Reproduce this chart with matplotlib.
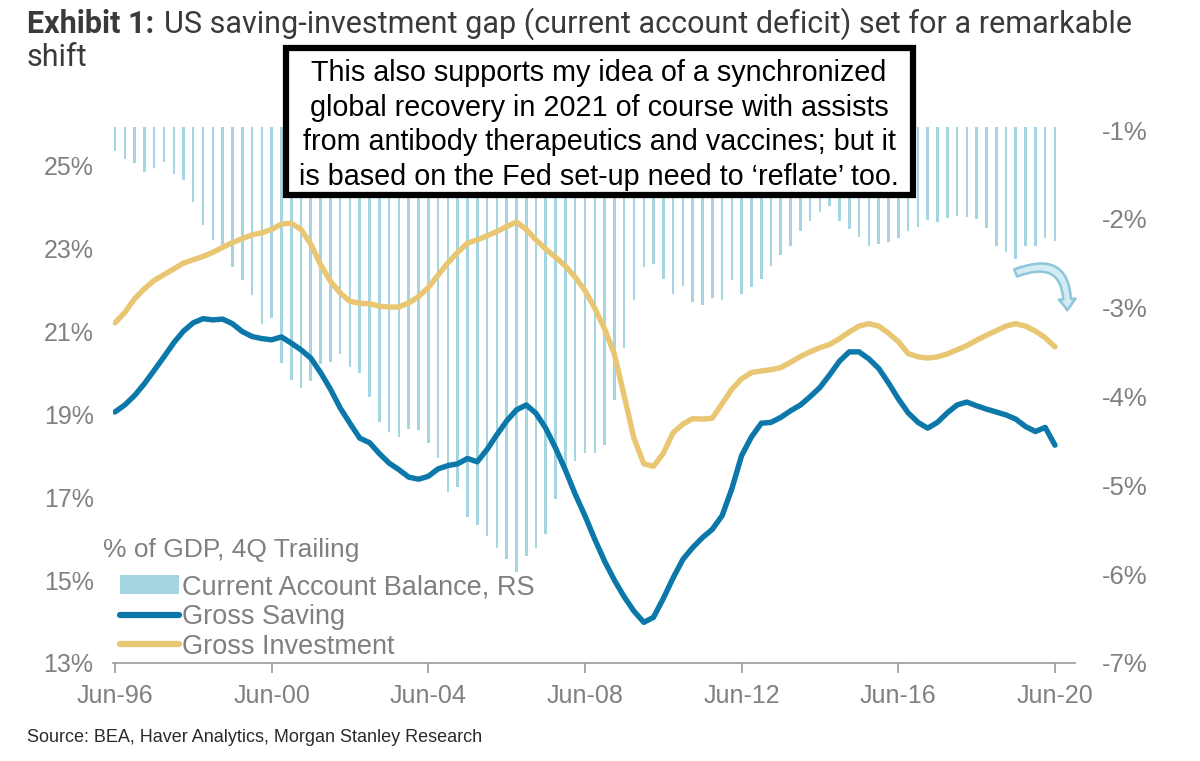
import matplotlib
matplotlib.use("Agg")
import matplotlib.pyplot as plt
import matplotlib.dates as mdates
from matplotlib.patches import Patch, Rectangle, FancyArrowPatch
from matplotlib.lines import Line2D
import pandas as pd

# --- dane: kwartalnie, Jun-96 .. Jun-20 (% PKB, 4Q trailing) ---
kwartaly = pd.date_range("1996-06-30", "2020-06-30", freq="QE")

current_account = [
    -1.24, -1.32, -1.37, -1.47, -1.43, -1.36, -1.49, -1.56, -1.81, -2.07,
    -2.24, -2.35, -2.54, -2.69, -2.86, -3.18, -3.11, -3.62, -3.81, -3.90,
    -3.83, -3.63, -3.61, -3.52, -3.67, -3.73, -4.01, -4.29, -4.40, -4.46,
    -4.36, -4.38, -4.52, -4.69, -5.08, -5.02, -5.36, -5.45, -5.57, -5.71,
    -5.83, -5.98, -5.79, -5.71, -5.55, -5.15, -4.87, -4.72, -4.63, -4.63,
    -4.55, -4.04, -3.45, -2.91, -2.54, -2.51, -2.68, -2.84, -2.76, -2.93,
    -2.97, -2.89, -2.91, -2.69, -2.85, -2.77, -2.68, -2.53, -2.41, -2.31,
    -2.14, -2.02, -1.92, -1.85, -2.02, -2.11, -2.20, -2.31, -2.28, -2.26,
    -2.22, -2.14, -2.09, -2.01, -2.03, -1.99, -1.97, -1.98, -2.00, -2.10,
    -2.31, -2.37, -2.45, -2.30, -2.30, -2.22, -2.25,
]

gross_saving = [
    19.05, 19.22, 19.45, 19.73, 20.05, 20.38, 20.72, 21.00, 21.20, 21.30,
    21.27, 21.29, 21.18, 20.99, 20.87, 20.82, 20.79, 20.86, 20.71, 20.55,
    20.35, 20.00, 19.60, 19.15, 18.78, 18.42, 18.31, 18.05, 17.82, 17.66,
    17.48, 17.43, 17.50, 17.68, 17.76, 17.80, 17.93, 17.85, 18.15, 18.50,
    18.83, 19.10, 19.22, 19.02, 18.66, 18.18, 17.65, 17.07, 16.55, 15.98,
    15.45, 15.00, 14.60, 14.25, 13.98, 14.10, 14.55, 15.05, 15.50, 15.78,
    16.02, 16.22, 16.55, 17.20, 18.00, 18.45, 18.78, 18.80, 18.92, 19.08,
    19.22, 19.42, 19.64, 19.95, 20.28, 20.50, 20.50, 20.33, 20.10, 19.75,
    19.37, 19.03, 18.80, 18.66, 18.80, 19.03, 19.22, 19.29, 19.20, 19.12,
    19.05, 18.98, 18.88, 18.70, 18.58, 18.68, 18.25,
]

gross_investment = [
    21.20, 21.45, 21.78, 22.02, 22.22, 22.36, 22.50, 22.64, 22.72, 22.80,
    22.90, 23.02, 23.13, 23.23, 23.32, 23.37, 23.45, 23.58, 23.60, 23.45,
    23.10, 22.60, 22.20, 21.92, 21.72, 21.67, 21.66, 21.60, 21.58, 21.58,
    21.68, 21.83, 22.05, 22.35, 22.65, 22.90, 23.12, 23.20, 23.30, 23.40,
    23.52, 23.63, 23.45, 23.20, 22.98, 22.78, 22.57, 22.30, 21.98, 21.55,
    21.05, 20.45, 19.45, 18.42, 17.80, 17.74, 18.05, 18.55, 18.76, 18.89,
    18.88, 18.90, 19.25, 19.60, 19.85, 20.00, 20.04, 20.07, 20.12, 20.25,
    20.39, 20.50, 20.60, 20.68, 20.82, 20.98, 21.12, 21.18, 21.12, 20.95,
    20.75, 20.46, 20.38, 20.35, 20.38, 20.45, 20.55, 20.65, 20.78, 20.90,
    21.01, 21.12, 21.18, 21.12, 21.00, 20.84, 20.62,
]

lewe_ticki = [13, 15, 17, 19, 21, 23, 25]
prawe_ticki = [-7, -6, -5, -4, -3, -2, -1]
daty_ticki = pd.to_datetime(["1996-06-30", "2000-06-30", "2004-06-30", "2008-06-30",
                             "2012-06-30", "2016-06-30", "2020-06-30"])

# --- kolory ---
NIEBIESKI = "#0b78a9"
ZOLTY = "#e8c672"
JASNY = "#a6d5e2"
SZARY = "#808080"

W, H = 1200, 761
fig = plt.figure(figsize=(W / 100, H / 100), dpi=100)
fig.patch.set_facecolor("white")

ax = fig.add_axes([113 / W, 1 - 663 / H, (1075 - 113) / W, (663 - 127) / H])
ax2 = ax.twinx()
ax.set_zorder(ax2.get_zorder() + 1)
ax.patch.set_visible(False)

# slupki rachunku biezacego (prawa os)
ax2.bar(kwartaly, current_account, width=24, color=JASNY, linewidth=0)
ax2.set_ylim(-7, -0.965)
ax2.set_yticks(prawe_ticki)
ax2.set_yticklabels([f"{v}%" for v in prawe_ticki])

# linie (lewa os)
ax.plot(kwartaly, gross_saving, color=NIEBIESKI, lw=3.9, solid_capstyle="round")
ax.plot(kwartaly, gross_investment, color=ZOLTY, lw=3.9, solid_capstyle="round")
ax.set_ylim(13, 25.92)
ax.set_yticks(lewe_ticki)
ax.set_yticklabels([f"{v}%" for v in lewe_ticki])

ax.set_xlim(kwartaly[0] - pd.Timedelta(days=18), kwartaly[-1] + pd.Timedelta(days=187))
ax.set_xticks(daty_ticki)
ax.xaxis.set_major_formatter(mdates.DateFormatter("%b-%y"))

for a in (ax, ax2):
    for s in ("top", "left", "right", "bottom"):
        a.spines[s].set_visible(False)
ax.spines["bottom"].set_visible(True)
ax.spines["bottom"].set_color("#9a9a9a")
ax.spines["bottom"].set_linewidth(1.2)

ax.tick_params(axis="x", direction="out", length=7, width=1.2, color="#9a9a9a",
               labelcolor=SZARY, labelsize=18, pad=8)
ax.tick_params(axis="y", length=0, labelcolor=SZARY, labelsize=18, pad=14)
ax2.tick_params(axis="y", length=0, labelcolor=SZARY, labelsize=18.5, pad=19)
for lab in ax.get_xticklabels() + ax.get_yticklabels() + ax2.get_yticklabels():
    lab.set_fontfamily("Liberation Sans")

# legenda
ax.text(103 / W, 1 - 550 / H, "% of GDP, 4Q Trailing", transform=fig.transFigure,
        fontsize=19, color=SZARY, family="Liberation Sans", va="center", ha="left")
uchwyty = [
    Patch(facecolor=JASNY, edgecolor="none"),
    Line2D([0], [0], color=NIEBIESKI, lw=4.5, solid_capstyle="round"),
    Line2D([0], [0], color=ZOLTY, lw=4.5, solid_capstyle="round"),
]
etykiety = ["Current Account Balance, RS", "Gross Saving", "Gross Investment"]
leg = ax.legend(uchwyty, etykiety, loc="lower left", bbox_to_anchor=(0.007, 0.006),
                frameon=False, handlelength=2.2, handletextpad=0.1,
                labelspacing=0.14, borderpad=0, borderaxespad=0,
                prop={"family": "Liberation Sans", "size": 19.5})
for t in leg.get_texts():
    t.set_color(SZARY)

# tytul
r = fig.canvas.get_renderer()
t1 = fig.text(27 / W, 1 - 24 / H, "Exhibit 1:", fontsize=22, fontweight="bold",
              family="Roboto", color="#3a3a3a", va="center", ha="left")
bb = t1.get_window_extent(renderer=r)
fig.text(bb.x1 / W + 10 / W, 1 - 24 / H,
         "US saving-investment gap (current account deficit) set for a remarkable",
         fontsize=22, family="Roboto", color="#3a3a3a", va="center", ha="left")
fig.text(27 / W, 1 - 58 / H, "shift", fontsize=22, family="Roboto",
         color="#3a3a3a", va="center", ha="left")

# ramka z komentarzem
fig.patches.append(Rectangle((286 / W, 1 - 195 / H), (913 - 286) / W, (195 - 48) / H,
                             transform=fig.transFigure, facecolor="white",
                             edgecolor="black", linewidth=4.5, zorder=5))
komentarz = ("This also supports my idea of a synchronized\n"
             "global recovery in 2021 of course with assists\n"
             "from antibody therapeutics and vaccines; but it\n"
             "is based on the Fed set-up need to \u2018reflate\u2019 too.")
fig.text(599 / W, 1 - 125 / H, komentarz, fontsize=20.7, family="Liberation Sans",
         color="black", ha="center", va="center", linespacing=1.3, zorder=6)

# strzalka
strz = FancyArrowPatch((1013 / W, 1 - 274 / H), (1067 / W, 1 - 313 / H),
                       transform=fig.transFigure,
                       connectionstyle="arc3,rad=-0.8",
                       arrowstyle="simple,head_width=12,head_length=8,tail_width=5.5",
                       facecolor="#d3ebf3", edgecolor="#8cc6d8", linewidth=1.8,
                       zorder=6)
fig.patches.append(strz)

# zrodlo
fig.text(27 / W, 1 - 738 / H, "Source: BEA, Haver Analytics, Morgan Stanley Research",
         fontsize=13, family="Liberation Sans", color="#2a2a2a", va="center", ha="left")

fig.savefig("out.png", dpi=100, facecolor="white")
